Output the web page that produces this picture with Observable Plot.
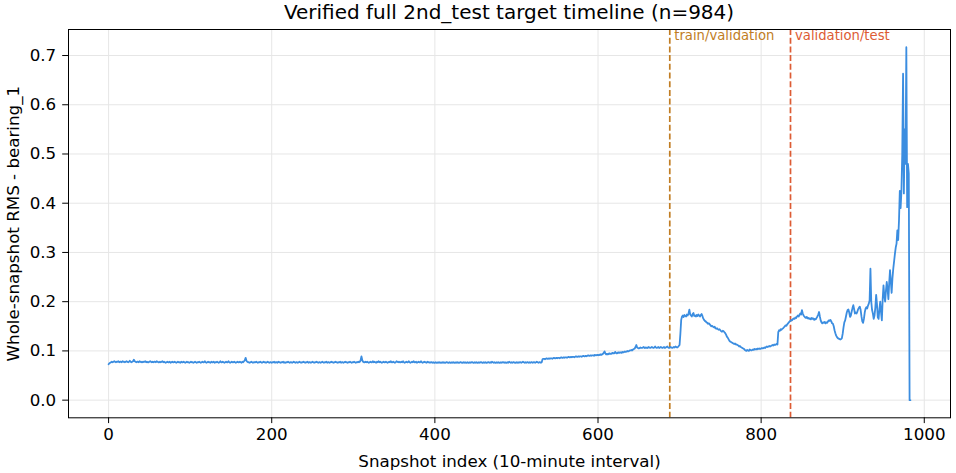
<!DOCTYPE html>
<html>
<head>
<meta charset="utf-8">
<script src="https://cdn.jsdelivr.net/npm/d3@7"></script>
<script src="https://cdn.jsdelivr.net/npm/@observablehq/plot@0.6"></script>
<style>
  html, body { margin: 0; padding: 0; background: white; }
  #title { width: 882px; margin-left: 68px; height: 24px; line-height: 24px; text-align: center;
           font-family: "DejaVu Sans", sans-serif; font-size: 20px; color: #000; white-space: nowrap; }
  #chart svg { display: block; overflow: visible; }
</style>
</head>
<body>
<div id="title">Verified full 2nd_test target timeline (n=984)</div>
<div id="chart"></div>
<script>
// Whole-snapshot RMS for bearing_1, one value per snapshot index (0..983)
const rms = [
.073,.075,.076,.077,.078,.077,.078,.079,.078,.077,.078,.078,.079,.077,.078,.078,.077,.079,.078,.078,
.077,.078,.079,.078,.077,.078,.080,.078,.077,.078,.079,.082,.079,.078,.077,.078,.078,.077,.079,.078,
.077,.078,.077,.078,.078,.079,.077,.078,.077,.077,.078,.079,.078,.077,.078,.077,.078,.078,.077,.079,
.078,.077,.077,.078,.077,.078,.079,.077,.078,.077,.076,.077,.078,.077,.077,.078,.076,.077,.078,.077,
.077,.078,.077,.076,.077,.078,.077,.077,.076,.078,.077,.077,.078,.077,.076,.077,.078,.077,.077,.076,
.077,.078,.077,.077,.076,.077,.078,.077,.076,.077,.077,.078,.077,.076,.077,.078,.077,.077,.079,.077,
.076,.077,.078,.077,.077,.076,.078,.077,.077,.078,.076,.077,.077,.078,.077,.076,.077,.079,.077,.077,
.078,.077,.076,.077,.078,.077,.077,.079,.077,.076,.077,.078,.077,.077,.078,.077,.076,.077,.078,.077,
.077,.078,.077,.076,.078,.077,.079,.081,.086,.080,.078,.077,.077,.076,.077,.078,.077,.076,.077,.077,
.077,.078,.077,.076,.077,.077,.078,.077,.076,.077,.078,.077,.077,.076,.077,.078,.077,.076,.077,.077,
.076,.077,.077,.078,.076,.077,.077,.076,.078,.077,.077,.076,.077,.077,.078,.076,.077,.076,.077,.077,
.078,.077,.076,.077,.077,.076,.077,.078,.077,.076,.077,.077,.076,.077,.078,.077,.076,.077,.077,.078,
.077,.076,.077,.077,.078,.076,.077,.077,.076,.077,.078,.077,.076,.077,.077,.078,.077,.076,.077,.077,
.076,.077,.078,.077,.076,.077,.077,.078,.076,.077,.077,.076,.077,.078,.077,.077,.076,.077,.078,.077,
.077,.076,.077,.077,.078,.076,.077,.077,.076,.077,.078,.077,.077,.076,.077,.077,.078,.077,.076,.077,
.077,.078,.077,.076,.077,.077,.078,.077,.078,.081,.089,.081,.078,.077,.077,.078,.077,.078,.077,.076,
.077,.078,.077,.077,.079,.077,.078,.077,.076,.078,.077,.079,.077,.078,.077,.076,.077,.078,.077,.077,
.078,.077,.076,.077,.078,.077,.079,.077,.077,.078,.077,.076,.077,.079,.078,.077,.078,.077,.077,.078,
.077,.079,.077,.076,.077,.078,.077,.077,.079,.077,.076,.077,.078,.077,.079,.077,.077,.078,.076,.077,
.078,.077,.077,.079,.077,.076,.077,.078,.077,.077,.076,.078,.077,.077,.076,.077,.077,.076,.077,.076,
.076,.077,.076,.076,.077,.076,.077,.076,.076,.077,.076,.077,.076,.076,.077,.077,.076,.076,.077,.076,
.076,.077,.076,.077,.076,.076,.077,.076,.077,.076,.076,.077,.077,.076,.076,.077,.076,.077,.076,.076,
.077,.076,.076,.077,.076,.077,.077,.076,.076,.077,.076,.077,.076,.076,.077,.076,.077,.077,.076,.076,
.077,.076,.077,.076,.076,.077,.077,.076,.077,.076,.078,.077,.076,.077,.076,.076,.077,.076,.077,.076,
.076,.077,.076,.077,.077,.076,.077,.076,.076,.077,.076,.078,.077,.076,.077,.076,.077,.077,.076,.076,
.077,.076,.077,.076,.077,.077,.076,.077,.078,.077,.076,.077,.076,.077,.077,.076,.077,.076,.077,.077,
.076,.077,.077,.076,.077,.078,.077,.076,.077,.077,.076,.077,.083,.084,.084,.083,.084,.085,.084,.084,
.085,.084,.085,.085,.084,.085,.086,.085,.085,.086,.085,.086,.086,.085,.086,.087,.086,.086,.087,.086,
.087,.087,.086,.087,.088,.087,.087,.088,.087,.088,.088,.087,.088,.089,.088,.088,.089,.088,.089,.089,
.088,.089,.090,.089,.089,.090,.089,.090,.091,.090,.090,.091,.090,.091,.091,.090,.092,.091,.091,.092,
.092,.091,.092,.093,.092,.093,.094,.096,.099,.095,.093,.094,.093,.094,.095,.094,.094,.095,.096,.095,
.095,.098,.096,.095,.096,.097,.096,.097,.097,.096,.098,.097,.098,.099,.098,.099,.100,.099,.100,.101,
.101,.102,.101,.103,.104,.105,.108,.112,.107,.106,.105,.106,.107,.106,.106,.107,.108,.106,.107,.106,
.107,.106,.108,.107,.106,.107,.108,.107,.106,.107,.109,.107,.106,.107,.108,.106,.107,.108,.107,.106,
.107,.108,.106,.107,.108,.109,.107,.106,.107,.108,.107,.106,.107,.108,.107,.109,.108,.107,.108,.110,
.112,.135,.163,.170,.172,.169,.173,.171,.170,.174,.172,.176,.184,.174,.172,.170,.175,.177,.171,.172,
.170,.173,.171,.174,.172,.170,.173,.175,.171,.166,.163,.161,.160,.158,.157,.155,.156,.154,.152,.150,
.151,.149,.148,.149,.146,.145,.146,.144,.143,.144,.142,.140,.139,.141,.140,.138,.136,.133,.129,.127,
.124,.121,.119,.118,.117,.116,.115,.114,.115,.113,.113,.112,.111,.109,.110,.108,.107,.106,.105,.104,
.102,.101,.100,.102,.101,.100,.103,.102,.101,.102,.103,.102,.104,.103,.104,.103,.105,.104,.105,.104,
.105,.106,.105,.106,.107,.106,.108,.109,.108,.109,.110,.109,.110,.111,.112,.111,.113,.112,.113,.114,
.113,.138,.142,.141,.144,.143,.145,.146,.148,.150,.152,.151,.154,.156,.158,.160,.161,.163,.162,.165,
.166,.165,.168,.167,.170,.172,.170,.173,.176,.174,.183,.176,.172,.170,.168,.167,.169,.166,.167,.165,
.166,.164,.167,.165,.166,.163,.165,.164,.167,.170,.174,.179,.170,.162,.158,.156,.158,.157,.159,.156,
.158,.157,.160,.162,.161,.163,.160,.156,.155,.150,.142,.136,.131,.128,.126,.125,.124,.123,.124,.126,
.135,.148,.158,.162,.170,.178,.183,.184,.178,.169,.172,.180,.187,.193,.185,.176,.178,.176,.180,.185,
.188,.190,.183,.170,.160,.157,.165,.178,.186,.189,.186,.192,.196,.203,.267,.200,.183,.176,.165,.172,
.188,.214,.195,.168,.165,.185,.200,.178,.162,.205,.233,.212,.200,.222,.240,.226,.205,.238,.264,.240,
.218,.248,.267,.282,.297,.310,.318,.345,.325,.365,.425,.390,.425,.500,.663,.420,.550,.480,.717,.392,
.480,.460,.000,.000
];

// Split boundaries
const splitAt = [688, 836];
const splitLabels = ["train/validation", "validation/test"];
const splitColors = ["#c17d24", "#dd5c34"];

// Ticks and labels
const xTicks = [0, 200, 400, 600, 800, 1000];
const yTicks = [0.0, 0.1, 0.2, 0.3, 0.4, 0.5, 0.6, 0.7];
const xLabel = "Snapshot index (10-minute interval)";
const yLabel = "Whole-snapshot RMS - bearing_1";

const points = rms.map((v, i) => ({i, v}));
const n = rms.length;
const xPad = (n - 1) * 0.05;
const yMax = d3.max(rms), yMin = d3.min(rms);
const yPad = (yMax - yMin) * 0.05;

const splits = splitAt.map((at, k) => ({at, label: splitLabels[k], color: splitColors[k]}));

const chart = Plot.plot({
  width: 956,
  height: 449,
  marginLeft: 68,
  marginRight: 6,
  marginTop: 5,
  marginBottom: 55.7,
  style: {fontFamily: "DejaVu Sans, sans-serif", fontSize: "16.7px", color: "#000", background: "white", overflow: "visible"},
  x: {domain: [-xPad, n - 1 + xPad]},
  y: {domain: [yMin - yPad, yMax + yPad]},
  marks: [
    Plot.gridX(xTicks, {stroke: "#e6e6e6", strokeOpacity: 1, strokeWidth: 1}),
    Plot.gridY(yTicks, {stroke: "#e6e6e6", strokeOpacity: 1, strokeWidth: 1}),
    ...splits.map(s => Plot.ruleX([s.at], {stroke: s.color, strokeWidth: 1.7, strokeDasharray: "6,2.7"})),
    Plot.line(points, {x: "i", y: "v", stroke: "#3b8de0", strokeWidth: 1.8, strokeLinejoin: "round"}),
    ...splits.map(s => Plot.text([s], {x: "at", text: "label", frameAnchor: "top", textAnchor: "start",
      lineAnchor: "top", dx: 4.5, dy: 1, fill: s.color, fontSize: 13.2})),
    Plot.frame({stroke: "#000", strokeWidth: 1}),
    Plot.axisX(xTicks, {tickSize: 5.8, tickPadding: 5, label: null, tickFormat: d => String(d)}),
    Plot.axisY(yTicks, {tickSize: 5.8, tickPadding: 6.5, label: null, tickFormat: d => d.toFixed(1)}),
    Plot.text([xLabel], {frameAnchor: "bottom", textAnchor: "middle", lineAnchor: "middle", dy: 43.6, fontSize: 16.7}),
    Plot.text([yLabel], {frameAnchor: "left", textAnchor: "middle", lineAnchor: "middle", rotate: -90, dx: -54.5, fontSize: 16.7})
  ]
});
document.getElementById("chart").appendChild(chart);
</script>
</body>
</html>
